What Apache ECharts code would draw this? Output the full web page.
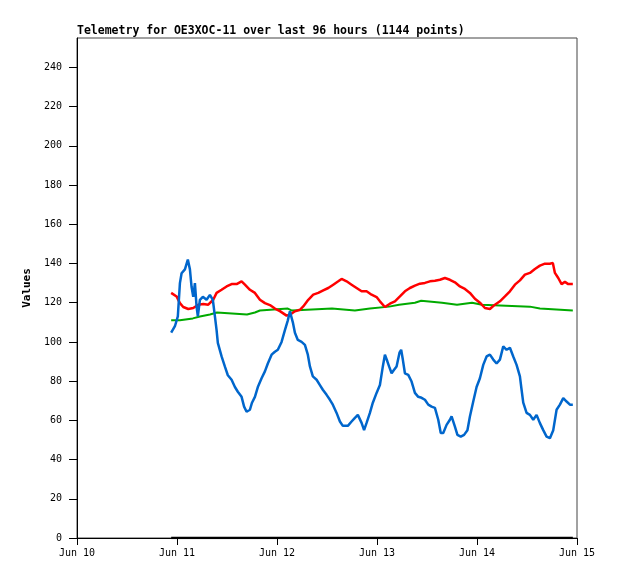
<!DOCTYPE html>
<html>
<head>
<meta charset="utf-8">
<script src="https://cdn.jsdelivr.net/npm/echarts@6/dist/echarts.min.js"></script>
<style>html,body{margin:0;padding:0;background:#fff;}#c{width:618px;height:579px;}</style>
</head>
<body>
<div id="c"></div>
<script>
// hours since Jun 10 00:00
var xTickLabels = ['Jun 10','Jun 11','Jun 12','Jun 13','Jun 14','Jun 15'];
var yTickValues = [0,20,40,60,80,100,120,140,160,180,200,220,240];

var blueHours = [22.6,23.5,24.2,24.7,25.1,25.9,26.6,27.1,27.5,27.9,28.3,28.7,29.0,29.5,30.2,31.1,31.9,32.6,33.1,33.5,33.8,34.7,35.5,36.2,37.1,37.9,38.6,39.5,40.1,40.7,41.5,42.0,42.7,43.4,44.3,45.1,45.8,46.7,47.5,48.2,49.1,49.9,50.6,51.1,51.5,51.8,52.3,53.0,53.9,54.7,55.4,55.9,56.6,57.5,58.3,59.0,59.9,60.7,61.4,62.3,63.1,63.8,65.0,65.9,66.7,67.4,68.3,68.9,69.5,70.3,71.0,71.9,72.7,73.4,73.9,74.5,74.9,75.5,76.1,76.7,77.4,77.8,78.2,78.7,79.5,80.3,81.1,81.9,82.7,83.5,84.3,85.1,85.9,86.7,87.3,87.9,88.7,89.5,89.9,90.7,91.3,92.1,92.9,93.7,94.3,95.1,95.9,96.7,97.5,98.3,99.1,99.9,100.7,101.5,102.3,103.1,103.9,104.7,105.5,106.3,106.7,107.1,107.9,108.7,109.5,110.3,111.1,111.9,112.7,113.5,114.3,115.1,115.9,116.7,117.5,118.3,119.0];
var blueValues = [104.7,108,113,130,135,137,142,137,128,123,130,118,113,121.5,123,121.5,124,121.5,113,106,99.5,92.6,87.4,83,80.7,77,74.6,72,67,64.4,65.4,69,72,77,81.5,85,89,93.5,95,96,100,106,111,115.6,115,110,104.7,101,100,98.5,93.5,87.5,82.4,80.7,78,75.6,73,70.5,68,63.8,59.4,57.2,57.2,59.4,61.3,62.8,58.7,55,58.7,63.8,69,74,78,87.5,93.5,90,87.5,84,85.8,87.5,94.5,96,91,84,83.2,79.8,74,72,71.5,70.5,68,67,66.4,60.3,53.6,53.6,57.7,60.3,62,56.8,52.6,51.7,52.6,55,62,69.6,77,81.5,88.3,92.6,93.5,91,89,91,97.7,96,97,92.6,88.3,82.4,75.6,69,63.8,62.8,60.3,62.8,58.6,55,51.7,50.9,55,65.4,68,71.3,69.6,68,68];

var redHours = [22.6,23.9,24.7,25.5,26.7,27.9,29.1,30.3,31.5,32.7,33.5,34.7,35.9,37.1,38.3,39.5,40.3,41.5,42.7,43.9,45.1,46.3,47.5,48.7,50.3,51.1,52.3,53.5,54.3,55.5,56.7,57.9,59.1,60.3,61.5,62.7,63.5,64.7,65.9,67.1,68.3,69.5,70.7,71.9,72.7,73.9,75.1,76.3,77.5,78.7,79.9,81.1,82.3,83.5,84.7,85.9,87.1,88.3,89.5,90.7,91.9,93.1,94.3,95.5,96.7,97.9,99.1,100.3,101.5,102.7,103.9,105.1,106.3,107.5,108.7,109.9,111.1,112.3,113.5,114.2,114.7,115.5,116.3,117.1,117.9,119.0];
var redValues = [125,123.2,119.8,117.8,116.8,117.3,119,119.3,119,121.5,125,126.6,128.3,129.5,129.5,130.9,129.2,126.6,125,121.5,119.8,118.8,117,115.7,113.4,113.9,115.6,116.4,118.1,121.5,124.1,125,126.3,127.5,129.2,130.9,132.1,130.9,129.2,127.5,125.8,125.8,124.1,122.9,120.7,117.8,119.5,120.7,123.2,125.8,127.5,128.7,129.7,130.1,130.9,131.2,131.7,132.6,131.7,130.4,128.3,127,125,122,120,117.3,116.8,119,120.7,123.2,125.8,129.2,131.4,134.3,135.2,137.2,138.9,139.9,139.9,140.3,135.2,132.6,129.5,130.6,129.5,129.5];

var greenHours = [22.6,24.7,27.8,29.5,31.9,33.6,40.8,42.7,43.9,50.6,51.6,61.2,66.7,70.3,74.9,77.3,81.1,82.6,87.6,91.2,94.8,97.2,108.7,111.1,119.0];
var greenValues = [111,112,113,114,115,114,115,116,117,116,117,116,117,118,119,120,121,120,119,120,119,118,117,116,116];

var blackHours = [22.6,119.0];
var blackValues = [0,0];

function zip(h, v){ return h.map(function(x,i){ return [x, v[i]]; }); }

var chart = echarts.init(document.getElementById('c'), null, {renderer:'canvas'});
var mono = 'DejaVu Sans Mono, Liberation Mono, monospace';
chart.setOption({
  animation:false,
  backgroundColor:'#ffffff',
  title:{
    text:'Telemetry for OE3XOC-11 over last 96 hours (1144 points)',
    left:77, top:25, padding:0,
    textStyle:{fontFamily:mono, fontSize:11.5, fontWeight:'bold', color:'#000'}
  },
  grid:{left:77, top:38, right:41, bottom:41, show:true, borderColor:'#444', borderWidth:1, backgroundColor:'transparent'},
  xAxis:{
    type:'value', min:0, max:120, interval:24,
    axisLine:{show:true, lineStyle:{color:'#000', width:1}},
    axisTick:{show:true, length:7, lineStyle:{color:'#000'}},
    splitLine:{show:false},
    axisLabel:{margin:10, fontFamily:mono, fontSize:10, color:'#000',
      formatter:function(v){ return xTickLabels[Math.round(v/24)] || ''; }}
  },
  yAxis:{
    type:'value', min:0, max:255, interval:20,
    name:'Values', nameLocation:'middle', nameGap:40,
    nameTextStyle:{fontFamily:mono, fontSize:11, fontWeight:'bold', color:'#000'},
    axisLine:{show:true, lineStyle:{color:'#000', width:1}},
    axisTick:{show:true, length:8, customValues:yTickValues, lineStyle:{color:'#000'}},
    splitLine:{show:false},
    axisLabel:{margin:15, fontFamily:mono, fontSize:10, color:'#000', customValues:yTickValues,
      formatter:function(v){ return (v % 20 === 0) ? String(v) : ''; }}
  },
  series:[
    {type:'line', data:zip(blackHours, blackValues), symbol:'none', lineStyle:{color:'#000', width:2.5}},
    {type:'line', data:zip(greenHours, greenValues), step:'end', symbol:'none', lineStyle:{color:'#00aa00', width:2}},
    {type:'line', data:zip(redHours, redValues), symbol:'none', lineStyle:{color:'#ff0000', width:2.5}},
    {type:'line', data:zip(blueHours, blueValues), symbol:'none', lineStyle:{color:'#0066cc', width:2.5}}
  ]
});
</script>
</body>
</html>
